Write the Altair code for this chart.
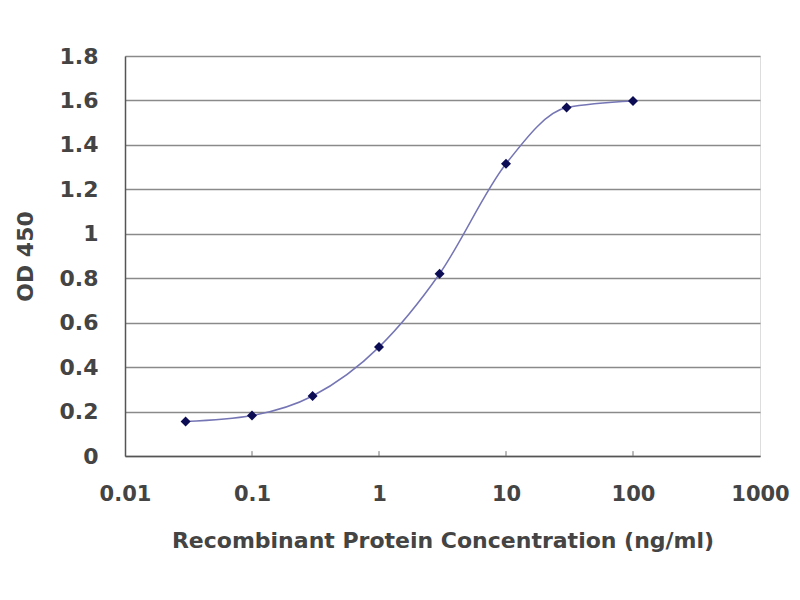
import altair as alt
import pandas as pd

conc = [0.03, 0.1, 0.3, 1, 3, 10, 30, 100]
od = [0.155, 0.182, 0.27, 0.49, 0.82, 1.315, 1.568, 1.598]
x_ticks = [0.01, 0.1, 1, 10, 100, 1000]
y_ticks = [0, 0.2, 0.4, 0.6, 0.8, 1.0, 1.2, 1.4, 1.6, 1.8]

df = pd.DataFrame({"conc": conc, "od": od})
tick_df = pd.DataFrame({"t": x_ticks[1:-1], "y0": [0] * 4, "y1": [0.022] * 4})

FONT = "DejaVu Sans"
TXT = "#444444"

xs = alt.Scale(type="log", domain=[0.01, 1000], nice=False)
ys = alt.Scale(domain=[0, 1.8], nice=False)

x_axis = alt.Axis(
    values=x_ticks, format="~g", title="Recombinant Protein Concentration (ng/ml)",
    grid=False, ticks=False, labelFontSize=21, labelColor=TXT, labelPadding=27,
    labelFontWeight="bold", titleFontWeight="bold",
    titleFontSize=22, titleColor=TXT, titlePadding=26,
    domainColor="#555", domainWidth=1.5, labelFont=FONT, titleFont=FONT,
    labelFlush=False,
)
y_axis = alt.Axis(
    values=y_ticks, format="~g", title="OD 450", grid=True, gridColor="#8a8a8a",
    gridWidth=1.6, ticks=False, labelFontSize=22, labelColor=TXT, labelPadding=27,
    labelFontWeight="bold", titleFontWeight="bold",
    titleFontSize=22, titleColor=TXT, titlePadding=22,
    domainColor="#555", domainWidth=1.5, labelFont=FONT, titleFont=FONT,
    labelFlush=False,
)

line = alt.Chart(df).mark_line(color="#7575b5", strokeWidth=1.5, interpolate="monotone").encode(
    x=alt.X("conc:Q", scale=xs, axis=x_axis),
    y=alt.Y("od:Q", scale=ys, axis=y_axis),
)
pts = alt.Chart(df).mark_point(shape="diamond", filled=True, color="#0c0c55", size=100, opacity=1).encode(
    x=alt.X("conc:Q", scale=xs),
    y=alt.Y("od:Q", scale=ys),
)
ticks = alt.Chart(tick_df).mark_rule(color="#777", strokeWidth=1).encode(
    x=alt.X("t:Q", scale=xs),
    y=alt.Y("y0:Q", scale=ys),
    y2="y1:Q",
)

chart = (
    alt.layer(line, pts, ticks)
    .properties(width=635, height=400, autosize=alt.AutoSizeParams(type="none"),
                padding={"left": 117, "top": 48, "right": 32, "bottom": 128})
    .configure_view(stroke="#9a9a9a", strokeWidth=1.5)
    .configure(background="white")
)

chart.save("out.html", embed_options={"renderer": "svg", "actions": False})
